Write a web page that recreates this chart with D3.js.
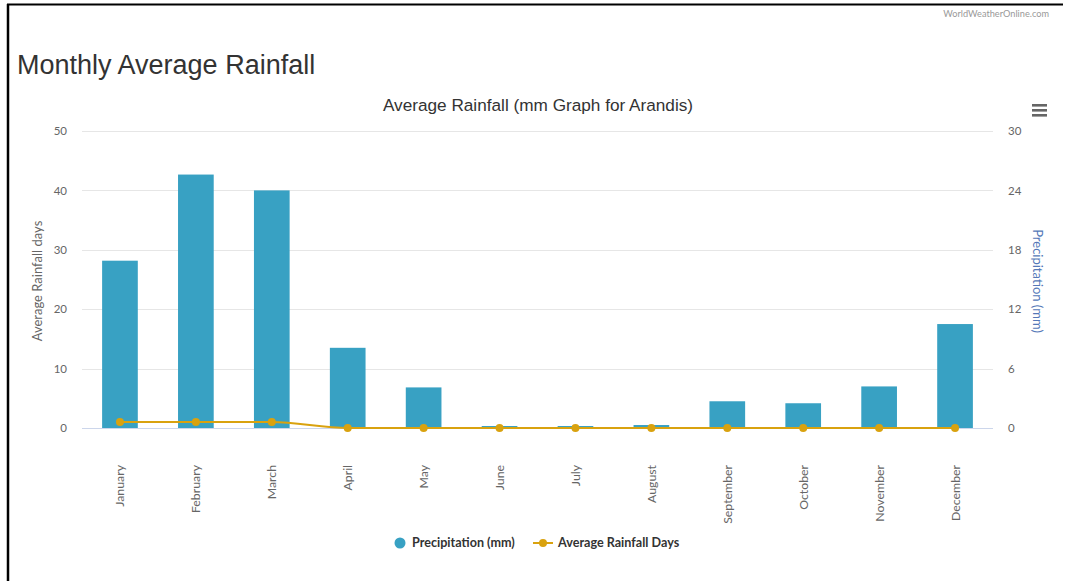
<!DOCTYPE html>
<html>
<head>
<meta charset="utf-8">
<script src="https://cdn.jsdelivr.net/npm/d3@7"></script>
<style>
  html, body { margin: 0; padding: 0; background: #fff; }
  svg { display: block; }
</style>
</head>
<body>
<svg id="chart" width="1070" height="581"></svg>
<script>
// Monthly data for Arandis
const months = ["January", "February", "March", "April", "May", "June",
                "July", "August", "September", "October", "November", "December"];
const precipitationMm = [16.9, 25.6, 24.0, 8.1, 4.1, 0.2, 0.2, 0.3, 2.7, 2.5, 4.2, 10.5];
const rainfallDays = [1, 1, 1, 0, 0, 0, 0, 0, 0, 0, 0, 0];
const daysTicks = [0, 10, 20, 30, 40, 50];
const mmTicks = [0, 6, 12, 18, 24, 30];

const svg = d3.select("#chart");
const W = 1070, H = 581;
const plot = { left: 82, right: 993, top: 131, bottom: 428 };

const barColor = "#38a1c3";
const lineColor = "#d9a20f";
const labelFont = "Lato, 'Open Sans', sans-serif";
const headFont = "'Liberation Sans', Arial, sans-serif";

// Frame
svg.append("line").attr("x1", 7).attr("x2", 1063).attr("y1", 4.5).attr("y2", 4.5)
  .attr("stroke", "#000").attr("stroke-width", 2);
svg.append("line").attr("x1", 8).attr("x2", 8).attr("y1", 4).attr("y2", H)
  .attr("stroke", "#000").attr("stroke-width", 2.5);

// Credit
svg.append("text").attr("x", 1049).attr("y", 17).attr("text-anchor", "end")
  .attr("font-family", labelFont).attr("font-size", 9.2).attr("fill", "#999")
  .text("WorldWeatherOnline.com");

// Page heading
svg.append("text").attr("x", 17).attr("y", 74)
  .attr("font-family", headFont).attr("font-size", 27).attr("fill", "#333")
  .text("Monthly Average Rainfall");

// Chart title
svg.append("text").attr("x", 538).attr("y", 111).attr("text-anchor", "middle")
  .attr("font-family", headFont).attr("font-size", 17.2).attr("fill", "#333")
  .text("Average Rainfall (mm Graph for Arandis)");

// Menu icon
const menu = svg.append("g").attr("transform", "translate(1032,104)");
[0, 5, 10].forEach(dy => menu.append("rect").attr("x", 0).attr("y", dy)
  .attr("width", 15).attr("height", 2.6).attr("fill", "#666"));

// Scales
const x = d3.scaleBand().domain(months).range([plot.left, plot.right]).padding(0);
const yDays = d3.scaleLinear().domain([0, 50]).range([plot.bottom, plot.top]);
const yMm = d3.scaleLinear().domain([0, 30]).range([plot.bottom, plot.top]);

// Gridlines
svg.append("g").selectAll("line").data(daysTicks.slice(1)).join("line")
  .attr("x1", plot.left).attr("x2", plot.right)
  .attr("y1", d => Math.round(yDays(d)) + 0.5).attr("y2", d => Math.round(yDays(d)) + 0.5)
  .attr("stroke", "#e6e6e6").attr("stroke-width", 1);

// Left axis (rainfall days)
const leftAxis = svg.append("g").attr("transform", `translate(${plot.left},0)`)
  .call(d3.axisLeft(yDays).tickValues(daysTicks).tickSize(0).tickPadding(15));
leftAxis.select(".domain").remove();
leftAxis.selectAll("text").attr("font-family", labelFont).attr("font-size", 11.5).attr("fill", "#666");

// Right axis (precipitation)
const rightAxis = svg.append("g").attr("transform", `translate(${plot.right},0)`)
  .call(d3.axisRight(yMm).tickValues(mmTicks).tickSize(0).tickPadding(15));
rightAxis.select(".domain").remove();
rightAxis.selectAll("text").attr("font-family", labelFont).attr("font-size", 11.5).attr("fill", "#666");

// Axis titles
svg.append("text").attr("transform", "translate(42,281) rotate(-90)")
  .attr("text-anchor", "middle").attr("font-family", labelFont).attr("font-size", 13)
  .attr("fill", "#666").text("Average Rainfall days");
svg.append("text").attr("transform", "translate(1033,281) rotate(90)")
  .attr("text-anchor", "middle").attr("font-family", labelFont).attr("font-size", 13)
  .attr("fill", "#5578b8").text("Precipitation (mm)");

// Bars
const barW = x.bandwidth() * 0.47;
svg.append("g").selectAll("rect").data(months).join("rect")
  .attr("x", d => x(d) + (x.bandwidth() - barW) / 2)
  .attr("width", barW)
  .attr("y", (d, i) => yMm(precipitationMm[i]))
  .attr("height", (d, i) => plot.bottom - yMm(precipitationMm[i]))
  .attr("fill", barColor);

// Bottom axis line and month labels
svg.append("line").attr("x1", plot.left).attr("x2", plot.right)
  .attr("y1", plot.bottom + 0.5).attr("y2", plot.bottom + 0.5)
  .attr("stroke", "#ccd6eb").attr("stroke-width", 1);
const bottomAxis = svg.append("g").attr("transform", `translate(0,${plot.bottom})`)
  .call(d3.axisBottom(x).tickSize(0).tickPadding(0));
bottomAxis.select(".domain").remove();
bottomAxis.selectAll("text")
  .attr("font-family", labelFont).attr("font-size", 12.3).attr("fill", "#666")
  .attr("text-anchor", "end").attr("dy", null).attr("y", 0)
  .attr("transform", "translate(4.5,37) rotate(-90)");

// Rainfall days line
const cx = d => x(d) + x.bandwidth() / 2;
const line = d3.line().x(d => cx(d)).y((d, i) => yDays(rainfallDays[i])).curve(d3.curveMonotoneX);
svg.append("path").datum(months).attr("d", line)
  .attr("fill", "none").attr("stroke", lineColor).attr("stroke-width", 2);
svg.append("g").selectAll("circle").data(months).join("circle")
  .attr("cx", cx).attr("cy", (d, i) => yDays(rainfallDays[i])).attr("r", 4)
  .attr("fill", lineColor);

// Legend
const legend = svg.append("g").attr("font-family", labelFont).attr("font-size", 12.6)
  .attr("font-weight", "bold").attr("fill", "#333");
legend.append("circle").attr("cx", 400).attr("cy", 543).attr("r", 5.5).attr("fill", barColor);
legend.append("text").attr("x", 412).attr("y", 547).text("Precipitation (mm)");
legend.append("line").attr("x1", 533).attr("x2", 553).attr("y1", 543).attr("y2", 543)
  .attr("stroke", lineColor).attr("stroke-width", 2);
legend.append("circle").attr("cx", 543).attr("cy", 543).attr("r", 4).attr("fill", lineColor);
legend.append("text").attr("x", 558).attr("y", 547).text("Average Rainfall Days");
</script>
</body>
</html>
